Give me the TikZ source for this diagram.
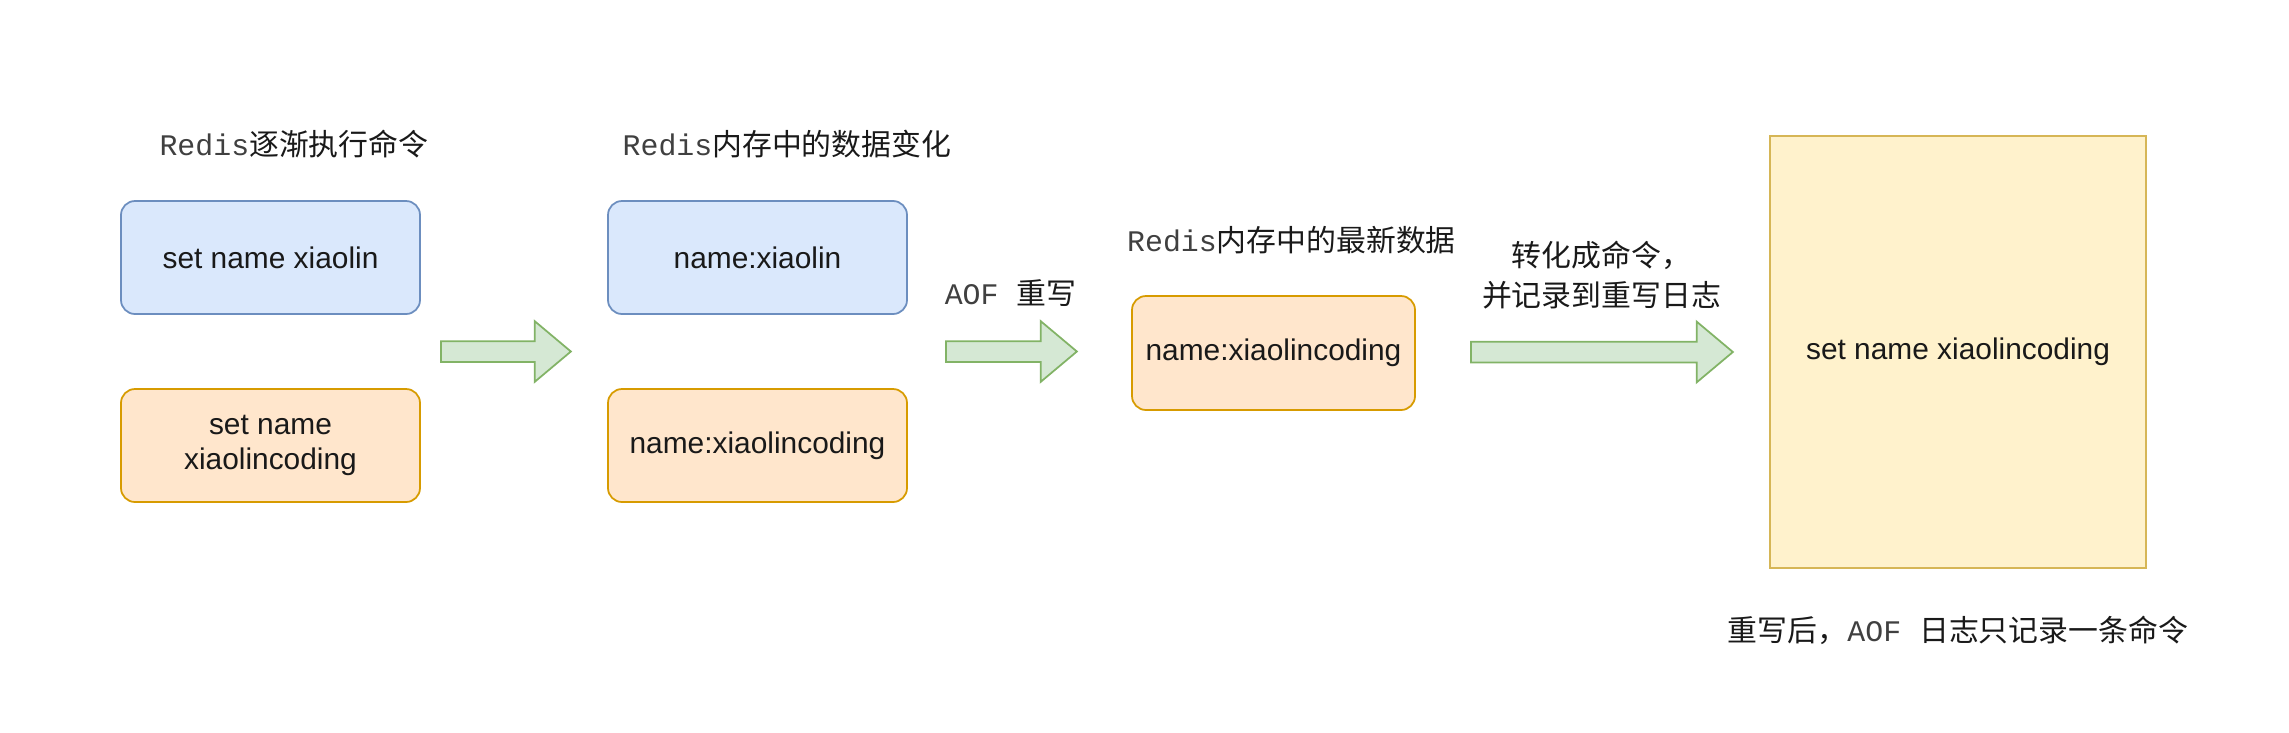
\documentclass[tikz,border=0pt]{standalone}
\usepackage{fontspec}
\setmainfont{Liberation Sans}
\setmonofont{Liberation Mono}
\newfontfamily\cjk{Noto Sans CJK SC}
\usetikzlibrary{positioning,shapes.arrows}
\definecolor{azulfundo}{HTML}{DAE8FC}
\definecolor{azulborda}{HTML}{6C8EBF}
\definecolor{laranjafundo}{HTML}{FFE6CC}
\definecolor{laranjaborda}{HTML}{D79B00}
\definecolor{verdefundo}{HTML}{D5E8D4}
\definecolor{verdeborda}{HTML}{82B366}
\definecolor{amarelofundo}{HTML}{FFF2CC}
\definecolor{amareloborda}{HTML}{D6B656}

\begin{document}
\begin{tikzpicture}[every node/.style={font=\fontsize{8.5}{10}\selectfont, text=black!90, align=center},
    caixa/.style={draw, rounded corners=0.14cm, line width=0.5pt, minimum width=2.99cm, minimum height=1.13cm, inner sep=0},
    azul/.style={caixa, fill=azulfundo, draw=azulborda},
    laranja/.style={caixa, fill=laranjafundo, draw=laranjaborda},
    seta/.style={single arrow, draw=verdeborda, fill=verdefundo, line width=0.5pt, inner xsep=0, inner ysep=0.095cm, single arrow head extend=0.2cm, single arrow tip angle=80, anchor=tail},
    node distance=1.88cm]
        \useasboundingbox (0,0) rectangle (22.89,7.32);
        \node[azul] (comando1) at (2.705,4.745) {set name xiaolin};
        \node[laranja, below of=comando1] (comando2) {set name\\xiaolincoding};
        \node[azul, right of=comando1, node distance=4.87cm] (memoria1) {name:xiaolin};
        \node[laranja, below of=memoria1] (memoria2) {name:xiaolincoding};
        \node[laranja, minimum width=2.83cm, minimum height=1.14cm] (atual) at (12.735,3.79) {name:xiaolincoding};
        \node[draw=amareloborda, fill=amarelofundo, line width=0.5pt, minimum width=3.76cm, minimum height=4.32cm] (registro) at (19.58,3.80) {set name xiaolincoding};

        \node (titulo1) at (2.94,5.88) {\ttfamily\color{black!75}Redis\cjk\color{black!90}逐渐执行命令};
        \node (titulo2) at (7.87,5.88) {\ttfamily\color{black!75}Redis\cjk\color{black!90}内存中的数据变化};
        \node (titulo3) at (12.915,4.92) {\ttfamily\color{black!75}Redis\cjk\color{black!90}内存中的最新数据};
        \node (reescrita) at (10.105,4.39) {\ttfamily\color{black!75}AOF \cjk\color{black!90}重写};
        \node[font=\fontsize{8.5}{11.4}\selectfont\cjk] (conversao) at (16.015,4.57) {转化成命令，\\并记录到重写日志};
        \node (resultado) at (19.58,1.02) {\cjk 重写后，{\ttfamily\color{black!75}AOF }日志只记录一条命令};

        \node[seta, minimum height=1.30cm] (seta1) at (4.40,3.805) {};
        \node[seta, minimum height=1.31cm] (seta2) at (9.45,3.805) {};
        \node[seta, minimum height=2.62cm] (seta3) at (14.70,3.80) {};
      \end{tikzpicture}
\end{document}
